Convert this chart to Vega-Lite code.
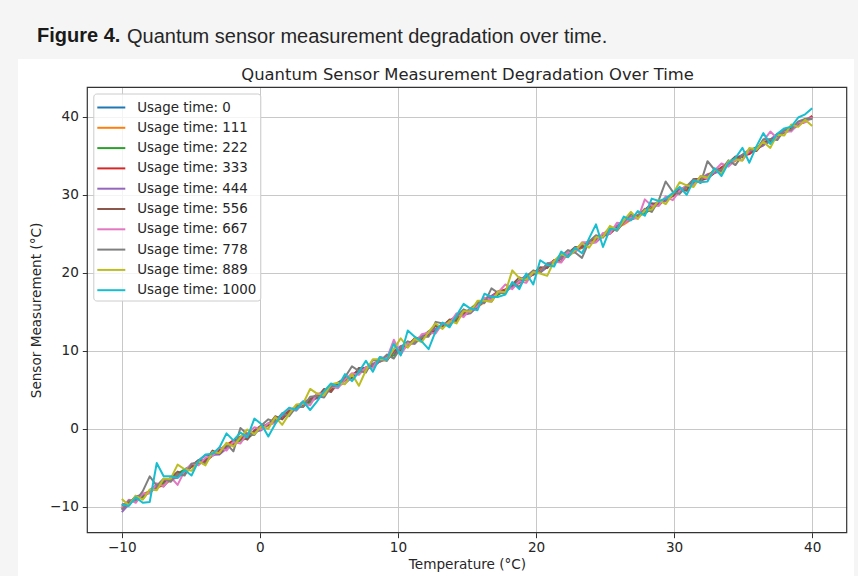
{
"$schema": "https://vega.github.io/schema/vega-lite/v6.json",
"width": 836, "height": 517,
"autosize": {"type": "none"},
"padding": {"left": 18, "top": 59, "right": 4, "bottom": 0},
"background": "#f5f5f5",
"title": {
 "text": "Figure 4.",
 "anchor": "start", "frame": "group", "orient": "top",
 "dx": 19, "offset": -20,
 "font": "Liberation Sans", "fontSize": 20, "fontWeight": "bold", "color": "#1a1a1a"
},
"config": {
 "view": {"fill": "white", "stroke": null},
 "axis": {"labelFont": "DejaVu Sans", "labelFontSize": 13.6, "labelColor": "#262626", "titleFont": "DejaVu Sans", "titleFontSize": 13.6, "titleFontWeight": "normal", "titleColor": "#262626", "tickColor": "#333333", "tickSize": 5, "gridColor": "#c8c8c8", "gridWidth": 1, "domain": false}
},
"resolve": {"axis": {"x": "independent", "y": "independent"}},
"layer": [
{
"data": {"values": [
{"t":-10,"u":0,"v":-10},{"t":-8.48,"u":0,"v":-8.5},{"t":-6.97,"u":0,"v":-7},{"t":-5.45,"u":0,"v":-5.4},{"t":-3.94,"u":0,"v":-3.9},{"t":-2.42,"u":0,"v":-2.4},{"t":-0.91,"u":0,"v":-0.9},{"t":0.61,"u":0,"v":0.6},{"t":2.12,"u":0,"v":2.1},{"t":3.64,"u":0,"v":3.6},{"t":5.15,"u":0,"v":5.2},{"t":6.67,"u":0,"v":6.7},{"t":8.18,"u":0,"v":8.2},{"t":9.7,"u":0,"v":9.7},{"t":11.21,"u":0,"v":11.2},{"t":12.73,"u":0,"v":12.7},{"t":14.24,"u":0,"v":14.3},{"t":15.76,"u":0,"v":15.8},{"t":17.27,"u":0,"v":17.3},{"t":18.79,"u":0,"v":18.8},{"t":20.3,"u":0,"v":20.3},{"t":21.82,"u":0,"v":21.8},{"t":23.33,"u":0,"v":23.3},{"t":24.85,"u":0,"v":24.9},{"t":26.36,"u":0,"v":26.4},{"t":27.88,"u":0,"v":27.9},{"t":29.39,"u":0,"v":29.4},{"t":30.91,"u":0,"v":30.9},{"t":32.42,"u":0,"v":32.4},{"t":33.94,"u":0,"v":33.9},{"t":35.45,"u":0,"v":35.5},{"t":36.97,"u":0,"v":37},{"t":38.48,"u":0,"v":38.5},{"t":40,"u":0,"v":40},
{"t":-10,"u":111,"v":-10.1},{"t":-8.48,"u":111,"v":-8.4},{"t":-6.97,"u":111,"v":-7.2},{"t":-5.45,"u":111,"v":-5.4},{"t":-3.94,"u":111,"v":-3.9},{"t":-2.42,"u":111,"v":-2.5},{"t":-0.91,"u":111,"v":-0.7},{"t":0.61,"u":111,"v":0.5},{"t":2.12,"u":111,"v":2.2},{"t":3.64,"u":111,"v":3.4},{"t":5.15,"u":111,"v":5.2},{"t":6.67,"u":111,"v":6.7},{"t":8.18,"u":111,"v":8.1},{"t":9.7,"u":111,"v":9.9},{"t":11.21,"u":111,"v":11.1},{"t":12.73,"u":111,"v":12.8},{"t":14.24,"u":111,"v":14.2},{"t":15.76,"u":111,"v":15.6},{"t":17.27,"u":111,"v":17.4},{"t":18.79,"u":111,"v":18.7},{"t":20.3,"u":111,"v":20.5},{"t":21.82,"u":111,"v":21.8},{"t":23.33,"u":111,"v":23.2},{"t":24.85,"u":111,"v":24.9},{"t":26.36,"u":111,"v":26.2},{"t":27.88,"u":111,"v":28},{"t":29.39,"u":111,"v":29.4},{"t":30.91,"u":111,"v":30.8},{"t":32.42,"u":111,"v":32.6},{"t":33.94,"u":111,"v":33.8},{"t":35.45,"u":111,"v":35.5},{"t":36.97,"u":111,"v":37},{"t":38.48,"u":111,"v":38.4},{"t":40,"u":111,"v":40.1},
{"t":-10,"u":222,"v":-9.8},{"t":-8.48,"u":222,"v":-8.7},{"t":-6.97,"u":222,"v":-6.9},{"t":-5.45,"u":222,"v":-5.2},{"t":-3.94,"u":222,"v":-4},{"t":-2.42,"u":222,"v":-2.2},{"t":-0.91,"u":222,"v":-1.2},{"t":0.61,"u":222,"v":0.7},{"t":2.12,"u":222,"v":2.3},{"t":3.64,"u":222,"v":3.4},{"t":5.15,"u":222,"v":5.4},{"t":6.67,"u":222,"v":6.6},{"t":8.18,"u":222,"v":8.3},{"t":9.7,"u":222,"v":9.4},{"t":11.21,"u":222,"v":11.4},{"t":12.73,"u":222,"v":12.8},{"t":14.24,"u":222,"v":14},{"t":15.76,"u":222,"v":16.1},{"t":17.27,"u":222,"v":17.2},{"t":18.79,"u":222,"v":19},{"t":20.3,"u":222,"v":20.1},{"t":21.82,"u":222,"v":21.9},{"t":23.33,"u":222,"v":23.6},{"t":24.85,"u":222,"v":24.7},{"t":26.36,"u":222,"v":26.6},{"t":27.88,"u":222,"v":27.6},{"t":29.39,"u":222,"v":29.5},{"t":30.91,"u":222,"v":31.1},{"t":32.42,"u":222,"v":32.2},{"t":33.94,"u":222,"v":34},{"t":35.45,"u":222,"v":35.7},{"t":36.97,"u":222,"v":36.8},{"t":38.48,"u":222,"v":38.6},{"t":40,"u":222,"v":39.9},
{"t":-10,"u":333,"v":-10.3},{"t":-8.99,"u":333,"v":-8.8},{"t":-7.98,"u":333,"v":-8.1},{"t":-6.97,"u":333,"v":-6.7},{"t":-5.96,"u":333,"v":-6.2},{"t":-4.95,"u":333,"v":-4.8},{"t":-3.94,"u":333,"v":-4.2},{"t":-2.93,"u":333,"v":-2.7},{"t":-1.92,"u":333,"v":-1.5},{"t":-0.91,"u":333,"v":-1.1},{"t":0.1,"u":333,"v":0.2},{"t":1.11,"u":333,"v":0.8},{"t":2.12,"u":333,"v":2.3},{"t":3.13,"u":333,"v":3},{"t":4.14,"u":333,"v":4.4},{"t":5.15,"u":333,"v":4.9},{"t":6.16,"u":333,"v":6.3},{"t":7.17,"u":333,"v":7.5},{"t":8.18,"u":333,"v":7.9},{"t":9.19,"u":333,"v":9.4},{"t":10.2,"u":333,"v":10.1},{"t":11.21,"u":333,"v":11.5},{"t":12.22,"u":333,"v":12},{"t":13.23,"u":333,"v":13.3},{"t":14.24,"u":333,"v":14.4},{"t":15.25,"u":333,"v":14.9},{"t":16.26,"u":333,"v":16.4},{"t":17.27,"u":333,"v":17.6},{"t":18.28,"u":333,"v":18.1},{"t":19.29,"u":333,"v":19.4},{"t":20.3,"u":333,"v":20.2},{"t":21.31,"u":333,"v":21.6},{"t":22.32,"u":333,"v":22.1},{"t":23.33,"u":333,"v":23.5},{"t":24.34,"u":333,"v":24.4},{"t":25.35,"u":333,"v":25},{"t":26.36,"u":333,"v":26.6},{"t":27.37,"u":333,"v":27.3},{"t":28.38,"u":333,"v":28.7},{"t":29.39,"u":333,"v":29.2},{"t":30.4,"u":333,"v":30.5},{"t":31.41,"u":333,"v":31.6},{"t":32.42,"u":333,"v":32.1},{"t":33.43,"u":333,"v":33.5},{"t":34.44,"u":333,"v":34.7},{"t":35.45,"u":333,"v":35.2},{"t":36.46,"u":333,"v":36.6},{"t":37.47,"u":333,"v":37.4},{"t":38.48,"u":333,"v":38.7},{"t":39.49,"u":333,"v":39.3},{"t":40,"u":333,"v":40.1},
{"t":-10,"u":444,"v":-10.7},{"t":-8.99,"u":444,"v":-8.7},{"t":-7.98,"u":444,"v":-8.2},{"t":-6.97,"u":444,"v":-6.6},{"t":-5.96,"u":444,"v":-6.3},{"t":-4.95,"u":444,"v":-4.7},{"t":-3.94,"u":444,"v":-3.4},{"t":-2.93,"u":444,"v":-3.3},{"t":-1.92,"u":444,"v":-1.8},{"t":-0.91,"u":444,"v":-0.6},{"t":0.1,"u":444,"v":-0.2},{"t":1.11,"u":444,"v":1.3},{"t":2.12,"u":444,"v":2},{"t":3.13,"u":444,"v":3.5},{"t":4.14,"u":444,"v":3.9},{"t":5.15,"u":444,"v":5.4},{"t":6.16,"u":444,"v":5.8},{"t":7.17,"u":444,"v":7.4},{"t":8.18,"u":444,"v":8.3},{"t":9.19,"u":444,"v":8.9},{"t":10.2,"u":444,"v":10.6},{"t":11.21,"u":444,"v":11},{"t":12.22,"u":444,"v":12.5},{"t":13.23,"u":444,"v":13.1},{"t":14.24,"u":444,"v":14.4},{"t":15.25,"u":444,"v":14.8},{"t":16.26,"u":444,"v":16.6},{"t":17.27,"u":444,"v":17.4},{"t":18.28,"u":444,"v":18.1},{"t":19.29,"u":444,"v":19.7},{"t":20.3,"u":444,"v":20},{"t":21.31,"u":444,"v":21.5},{"t":22.32,"u":444,"v":22.2},{"t":23.33,"u":444,"v":23.6},{"t":24.34,"u":444,"v":23.9},{"t":25.35,"u":444,"v":25.5},{"t":26.36,"u":444,"v":26.5},{"t":27.37,"u":444,"v":27.1},{"t":28.38,"u":444,"v":28.8},{"t":29.39,"u":444,"v":29.2},{"t":30.4,"u":444,"v":30.7},{"t":31.41,"u":444,"v":31.3},{"t":32.42,"u":444,"v":32.6},{"t":33.43,"u":444,"v":33},{"t":34.44,"u":444,"v":34.7},{"t":35.45,"u":444,"v":35.5},{"t":36.46,"u":444,"v":36.3},{"t":37.47,"u":444,"v":37.8},{"t":38.48,"u":444,"v":38.2},{"t":39.49,"u":444,"v":39.7},{"t":40,"u":444,"v":39.9},
{"t":-10,"u":556,"v":-9.7},{"t":-9.49,"u":556,"v":-9.7},{"t":-8.99,"u":556,"v":-8.6},{"t":-8.48,"u":556,"v":-9},{"t":-7.98,"u":556,"v":-7.9},{"t":-7.47,"u":556,"v":-7.2},{"t":-6.97,"u":556,"v":-7.4},{"t":-6.46,"u":556,"v":-6.3},{"t":-5.96,"u":556,"v":-5.5},{"t":-5.45,"u":556,"v":-5.8},{"t":-4.95,"u":556,"v":-4.8},{"t":-4.44,"u":556,"v":-4},{"t":-3.94,"u":556,"v":-4.1},{"t":-3.43,"u":556,"v":-2.8},{"t":-2.93,"u":556,"v":-3.2},{"t":-2.42,"u":556,"v":-2.2},{"t":-1.92,"u":556,"v":-2},{"t":-1.41,"u":556,"v":-1},{"t":-0.91,"u":556,"v":-1.4},{"t":-0.4,"u":556,"v":-0.2},{"t":0.1,"u":556,"v":0.4},{"t":0.61,"u":556,"v":0.4},{"t":1.11,"u":556,"v":1.6},{"t":1.62,"u":556,"v":1.2},{"t":2.12,"u":556,"v":2.2},{"t":2.63,"u":556,"v":2.9},{"t":3.13,"u":556,"v":2.8},{"t":3.64,"u":556,"v":3.8},{"t":4.14,"u":556,"v":4},{"t":4.65,"u":556,"v":5.1},{"t":5.15,"u":556,"v":4.7},{"t":5.66,"u":556,"v":5.9},{"t":6.16,"u":556,"v":6.5},{"t":6.67,"u":556,"v":6.5},{"t":7.17,"u":556,"v":7.8},{"t":7.68,"u":556,"v":7.8},{"t":8.18,"u":556,"v":7.9},{"t":8.69,"u":556,"v":8.9},{"t":9.19,"u":556,"v":8.7},{"t":9.7,"u":556,"v":10},{"t":10.2,"u":556,"v":10.3},{"t":10.71,"u":556,"v":10.5},{"t":11.21,"u":556,"v":11.6},{"t":11.72,"u":556,"v":11.4},{"t":12.22,"u":556,"v":12.4},{"t":12.73,"u":556,"v":13.2},{"t":13.23,"u":556,"v":13.1},{"t":13.74,"u":556,"v":14},{"t":14.24,"u":556,"v":13.8},{"t":14.75,"u":556,"v":14.9},{"t":15.25,"u":556,"v":15},{"t":15.76,"u":556,"v":16.2},{"t":16.26,"u":556,"v":16.4},{"t":16.77,"u":556,"v":16.3},{"t":17.27,"u":556,"v":17.6},{"t":17.78,"u":556,"v":17.7},{"t":18.28,"u":556,"v":18.5},{"t":18.79,"u":556,"v":19.4},{"t":19.29,"u":556,"v":19},{"t":19.8,"u":556,"v":19.9},{"t":20.3,"u":556,"v":20.7},{"t":20.81,"u":556,"v":20.6},{"t":21.31,"u":556,"v":21.6},{"t":21.82,"u":556,"v":21.4},{"t":22.32,"u":556,"v":22.5},{"t":22.83,"u":556,"v":23.3},{"t":23.33,"u":556,"v":23.2},{"t":23.84,"u":556,"v":24.1},{"t":24.34,"u":556,"v":24},{"t":24.85,"u":556,"v":24.9},{"t":25.35,"u":556,"v":25.7},{"t":25.86,"u":556,"v":25.4},{"t":26.36,"u":556,"v":26.6},{"t":26.87,"u":556,"v":27.2},{"t":27.37,"u":556,"v":27.2},{"t":27.88,"u":556,"v":28},{"t":28.38,"u":556,"v":28.9},{"t":28.89,"u":556,"v":28.6},{"t":29.39,"u":556,"v":29.6},{"t":29.9,"u":556,"v":29.8},{"t":30.4,"u":556,"v":30.7},{"t":30.91,"u":556,"v":30.5},{"t":31.41,"u":556,"v":32},{"t":31.92,"u":556,"v":32},{"t":32.42,"u":556,"v":32.2},{"t":32.93,"u":556,"v":33.3},{"t":33.43,"u":556,"v":33.1},{"t":33.94,"u":556,"v":34.1},{"t":34.44,"u":556,"v":34.9},{"t":34.95,"u":556,"v":34.8},{"t":35.45,"u":556,"v":35.7},{"t":35.96,"u":556,"v":35.6},{"t":36.46,"u":556,"v":36.7},{"t":36.97,"u":556,"v":37.1},{"t":37.47,"u":556,"v":37.2},{"t":37.98,"u":556,"v":38.4},{"t":38.48,"u":556,"v":38.3},{"t":38.99,"u":556,"v":39.3},{"t":39.49,"u":556,"v":39.6},{"t":40,"u":556,"v":39.7},
{"t":-10,"u":667,"v":-10.2},{"t":-9.49,"u":667,"v":-9.1},{"t":-8.99,"u":667,"v":-9.5},{"t":-8.48,"u":667,"v":-8.3},{"t":-7.98,"u":667,"v":-8.3},{"t":-7.47,"u":667,"v":-7},{"t":-6.97,"u":667,"v":-7.4},{"t":-6.46,"u":667,"v":-6.2},{"t":-5.96,"u":667,"v":-7.2},{"t":-5.45,"u":667,"v":-5.4},{"t":-4.95,"u":667,"v":-4.5},{"t":-4.44,"u":667,"v":-4.7},{"t":-3.94,"u":667,"v":-3.7},{"t":-3.43,"u":667,"v":-3.5},{"t":-2.93,"u":667,"v":-2.4},{"t":-2.42,"u":667,"v":-2.8},{"t":-1.92,"u":667,"v":-1.7},{"t":-1.41,"u":667,"v":-1.9},{"t":-0.91,"u":667,"v":-0.6},{"t":-0.4,"u":667,"v":0.2},{"t":0.1,"u":667,"v":-0.1},{"t":0.61,"u":667,"v":0.7},{"t":1.11,"u":667,"v":0.7},{"t":1.62,"u":667,"v":1.9},{"t":2.12,"u":667,"v":2.6},{"t":2.63,"u":667,"v":2.3},{"t":3.13,"u":667,"v":3.3},{"t":3.64,"u":667,"v":3},{"t":4.14,"u":667,"v":4.5},{"t":4.65,"u":667,"v":4.5},{"t":5.15,"u":667,"v":5.4},{"t":5.66,"u":667,"v":5.2},{"t":6.16,"u":667,"v":6.3},{"t":6.67,"u":667,"v":7.1},{"t":7.17,"u":667,"v":6.9},{"t":7.68,"u":667,"v":7.9},{"t":8.18,"u":667,"v":7.8},{"t":8.69,"u":667,"v":9.2},{"t":9.19,"u":667,"v":9},{"t":9.7,"u":667,"v":11.4},{"t":10.2,"u":667,"v":9.5},{"t":10.71,"u":667,"v":10.9},{"t":11.21,"u":667,"v":10.9},{"t":11.72,"u":667,"v":12.1},{"t":12.22,"u":667,"v":12.3},{"t":12.73,"u":667,"v":12.2},{"t":13.23,"u":667,"v":13.5},{"t":13.74,"u":667,"v":13.5},{"t":14.24,"u":667,"v":14.8},{"t":14.75,"u":667,"v":14.3},{"t":15.25,"u":667,"v":15.4},{"t":15.76,"u":667,"v":15.7},{"t":16.26,"u":667,"v":16.8},{"t":16.77,"u":667,"v":16.5},{"t":17.27,"u":667,"v":17.5},{"t":17.78,"u":667,"v":18.5},{"t":18.28,"u":667,"v":17.9},{"t":18.79,"u":667,"v":18.9},{"t":19.29,"u":667,"v":18.7},{"t":19.8,"u":667,"v":20.1},{"t":20.3,"u":667,"v":20.1},{"t":20.81,"u":667,"v":21.2},{"t":21.31,"u":667,"v":21.4},{"t":21.82,"u":667,"v":21.3},{"t":22.32,"u":667,"v":22.6},{"t":22.83,"u":667,"v":22.6},{"t":23.33,"u":667,"v":23.9},{"t":23.84,"u":667,"v":23.9},{"t":24.34,"u":667,"v":23.9},{"t":24.85,"u":667,"v":25.1},{"t":25.35,"u":667,"v":25},{"t":25.86,"u":667,"v":26.4},{"t":26.36,"u":667,"v":26.3},{"t":26.87,"u":667,"v":27.1},{"t":27.37,"u":667,"v":26.9},{"t":27.88,"u":667,"v":29.4},{"t":28.38,"u":667,"v":28.6},{"t":28.89,"u":667,"v":28.6},{"t":29.39,"u":667,"v":29.8},{"t":29.9,"u":667,"v":29.3},{"t":30.4,"u":667,"v":30.5},{"t":30.91,"u":667,"v":31.2},{"t":31.41,"u":667,"v":31.2},{"t":31.92,"u":667,"v":32.4},{"t":32.42,"u":667,"v":32},{"t":32.93,"u":667,"v":33.1},{"t":33.43,"u":667,"v":34},{"t":33.94,"u":667,"v":33.6},{"t":34.44,"u":667,"v":34.5},{"t":34.95,"u":667,"v":34.4},{"t":35.45,"u":667,"v":35.7},{"t":35.96,"u":667,"v":35.8},{"t":36.46,"u":667,"v":36.9},{"t":36.97,"u":667,"v":38.1},{"t":37.47,"u":667,"v":37.2},{"t":37.98,"u":667,"v":38.2},{"t":38.48,"u":667,"v":38.1},{"t":38.99,"u":667,"v":39.3},{"t":39.49,"u":667,"v":39.3},{"t":40,"u":667,"v":39.9},
{"t":-10,"u":778,"v":-10.4},{"t":-9.49,"u":778,"v":-9.2},{"t":-8.99,"u":778,"v":-9.2},{"t":-8.48,"u":778,"v":-8},{"t":-7.98,"u":778,"v":-6.1},{"t":-7.47,"u":778,"v":-7.3},{"t":-6.97,"u":778,"v":-6.4},{"t":-6.46,"u":778,"v":-6.8},{"t":-5.96,"u":778,"v":-5.8},{"t":-5.45,"u":778,"v":-6},{"t":-4.95,"u":778,"v":-4.5},{"t":-4.44,"u":778,"v":-4.3},{"t":-3.94,"u":778,"v":-4.5},{"t":-3.43,"u":778,"v":-3.1},{"t":-2.93,"u":778,"v":-3.1},{"t":-2.42,"u":778,"v":-1.9},{"t":-1.92,"u":778,"v":-2.9},{"t":-1.41,"u":778,"v":0.1},{"t":-0.91,"u":778,"v":-0.7},{"t":-0.4,"u":778,"v":-0.8},{"t":0.1,"u":778,"v":0.4},{"t":0.61,"u":778,"v":1.2},{"t":1.11,"u":778,"v":0.9},{"t":1.62,"u":778,"v":2},{"t":2.12,"u":778,"v":1.6},{"t":2.63,"u":778,"v":2.8},{"t":3.13,"u":778,"v":2.8},{"t":3.64,"u":778,"v":4.1},{"t":4.14,"u":778,"v":4.2},{"t":4.65,"u":778,"v":4},{"t":5.15,"u":778,"v":5.4},{"t":5.66,"u":778,"v":5.5},{"t":6.16,"u":778,"v":6.6},{"t":6.67,"u":778,"v":8},{"t":7.17,"u":778,"v":7.4},{"t":7.68,"u":778,"v":7.2},{"t":8.18,"u":778,"v":8.8},{"t":8.69,"u":778,"v":8.6},{"t":9.19,"u":778,"v":9.5},{"t":9.7,"u":778,"v":9},{"t":10.2,"u":778,"v":10.4},{"t":10.71,"u":778,"v":11.2},{"t":11.21,"u":778,"v":10.9},{"t":11.72,"u":778,"v":11.8},{"t":12.22,"u":778,"v":11.8},{"t":12.73,"u":778,"v":13.7},{"t":13.23,"u":778,"v":13.5},{"t":13.74,"u":778,"v":13.2},{"t":14.24,"u":778,"v":14.4},{"t":14.75,"u":778,"v":15.3},{"t":15.25,"u":778,"v":14.9},{"t":15.76,"u":778,"v":16.2},{"t":16.26,"u":778,"v":16.1},{"t":16.77,"u":778,"v":18},{"t":17.27,"u":778,"v":17.4},{"t":17.78,"u":778,"v":17.4},{"t":18.28,"u":778,"v":18.6},{"t":18.79,"u":778,"v":18.2},{"t":19.29,"u":778,"v":19.5},{"t":19.8,"u":778,"v":20.3},{"t":20.3,"u":778,"v":20},{"t":20.81,"u":778,"v":21.2},{"t":21.31,"u":778,"v":21.2},{"t":21.82,"u":778,"v":22.1},{"t":22.32,"u":778,"v":22.9},{"t":22.83,"u":778,"v":22.6},{"t":23.33,"u":778,"v":21.9},{"t":23.84,"u":778,"v":24},{"t":24.34,"u":778,"v":24.8},{"t":24.85,"u":778,"v":24.5},{"t":25.35,"u":778,"v":25.7},{"t":25.86,"u":778,"v":25.4},{"t":26.36,"u":778,"v":26.5},{"t":26.87,"u":778,"v":27.5},{"t":27.37,"u":778,"v":27.2},{"t":27.88,"u":778,"v":28.2},{"t":28.38,"u":778,"v":27.8},{"t":28.89,"u":778,"v":29.3},{"t":29.39,"u":778,"v":31.7},{"t":29.9,"u":778,"v":30.4},{"t":30.4,"u":778,"v":30.1},{"t":30.91,"u":778,"v":31.1},{"t":31.41,"u":778,"v":32},{"t":31.92,"u":778,"v":31.5},{"t":32.42,"u":778,"v":34.3},{"t":32.93,"u":778,"v":33.2},{"t":33.43,"u":778,"v":33.2},{"t":33.94,"u":778,"v":34.4},{"t":34.44,"u":778,"v":33.8},{"t":34.95,"u":778,"v":35.1},{"t":35.45,"u":778,"v":35.8},{"t":35.96,"u":778,"v":35.7},{"t":36.46,"u":778,"v":37.1},{"t":36.97,"u":778,"v":37.1},{"t":37.47,"u":778,"v":37},{"t":37.98,"u":778,"v":38.3},{"t":38.48,"u":778,"v":38.3},{"t":38.99,"u":778,"v":39.4},{"t":39.49,"u":778,"v":39.7},{"t":40,"u":778,"v":39.7},
{"t":-10,"u":889,"v":-9},{"t":-9.49,"u":889,"v":-9.8},{"t":-8.99,"u":889,"v":-8.6},{"t":-8.48,"u":889,"v":-9.1},{"t":-7.98,"u":889,"v":-7.8},{"t":-7.47,"u":889,"v":-7.9},{"t":-6.97,"u":889,"v":-6.4},{"t":-6.46,"u":889,"v":-6.4},{"t":-5.96,"u":889,"v":-4.6},{"t":-5.45,"u":889,"v":-5.2},{"t":-4.95,"u":889,"v":-5.4},{"t":-4.44,"u":889,"v":-4.2},{"t":-3.94,"u":889,"v":-4.7},{"t":-3.43,"u":889,"v":-3},{"t":-2.93,"u":889,"v":-3.1},{"t":-2.42,"u":889,"v":-1.8},{"t":-1.92,"u":889,"v":-2.3},{"t":-1.41,"u":889,"v":-1.1},{"t":-0.91,"u":889,"v":-0.1},{"t":-0.4,"u":889,"v":-0.7},{"t":0.1,"u":889,"v":0.3},{"t":0.61,"u":889,"v":0},{"t":1.11,"u":889,"v":1.5},{"t":1.62,"u":889,"v":0.5},{"t":2.12,"u":889,"v":1.9},{"t":2.63,"u":889,"v":3.1},{"t":3.13,"u":889,"v":3.2},{"t":3.64,"u":889,"v":5.1},{"t":4.14,"u":889,"v":4.5},{"t":4.65,"u":889,"v":4.3},{"t":5.15,"u":889,"v":5.7},{"t":5.66,"u":889,"v":5.9},{"t":6.16,"u":889,"v":5.7},{"t":6.67,"u":889,"v":7},{"t":7.17,"u":889,"v":5.5},{"t":7.68,"u":889,"v":7.5},{"t":8.18,"u":889,"v":8.9},{"t":8.69,"u":889,"v":8.9},{"t":9.19,"u":889,"v":8.8},{"t":9.7,"u":889,"v":10.2},{"t":10.2,"u":889,"v":11.6},{"t":10.71,"u":889,"v":10.4},{"t":11.21,"u":889,"v":11.5},{"t":11.72,"u":889,"v":11.1},{"t":12.22,"u":889,"v":12.4},{"t":12.73,"u":889,"v":13.5},{"t":13.23,"u":889,"v":12.8},{"t":13.74,"u":889,"v":13.8},{"t":14.24,"u":889,"v":13.5},{"t":14.75,"u":889,"v":15.1},{"t":15.25,"u":889,"v":15},{"t":15.76,"u":889,"v":16.4},{"t":16.26,"u":889,"v":16.4},{"t":16.77,"u":889,"v":16.3},{"t":17.27,"u":889,"v":17.6},{"t":17.78,"u":889,"v":17.5},{"t":18.28,"u":889,"v":20.3},{"t":18.79,"u":889,"v":19.3},{"t":19.29,"u":889,"v":19.1},{"t":19.8,"u":889,"v":20.1},{"t":20.3,"u":889,"v":19.9},{"t":20.81,"u":889,"v":19.6},{"t":21.31,"u":889,"v":21.5},{"t":21.82,"u":889,"v":22.4},{"t":22.32,"u":889,"v":22},{"t":22.83,"u":889,"v":22.9},{"t":23.33,"u":889,"v":23.8},{"t":23.84,"u":889,"v":23.2},{"t":24.34,"u":889,"v":24.5},{"t":24.85,"u":889,"v":24.6},{"t":25.35,"u":889,"v":26},{"t":25.86,"u":889,"v":25.5},{"t":26.36,"u":889,"v":26.7},{"t":26.87,"u":889,"v":27.8},{"t":27.37,"u":889,"v":26.9},{"t":27.88,"u":889,"v":28},{"t":28.38,"u":889,"v":28.1},{"t":28.89,"u":889,"v":29.3},{"t":29.39,"u":889,"v":28.8},{"t":29.9,"u":889,"v":30.1},{"t":30.4,"u":889,"v":31.6},{"t":30.91,"u":889,"v":31.2},{"t":31.41,"u":889,"v":31},{"t":31.92,"u":889,"v":32.4},{"t":32.42,"u":889,"v":32.2},{"t":32.93,"u":889,"v":33.2},{"t":33.43,"u":889,"v":32.7},{"t":33.94,"u":889,"v":34.3},{"t":34.44,"u":889,"v":34.5},{"t":34.95,"u":889,"v":34.4},{"t":35.45,"u":889,"v":36},{"t":35.96,"u":889,"v":35.8},{"t":36.46,"u":889,"v":36.8},{"t":36.97,"u":889,"v":36},{"t":37.47,"u":889,"v":37.7},{"t":37.98,"u":889,"v":37.6},{"t":38.48,"u":889,"v":39},{"t":38.99,"u":889,"v":38.7},{"t":39.49,"u":889,"v":39.6},{"t":40,"u":889,"v":38.8},
{"t":-10,"u":1000,"v":-9.7},{"t":-9.49,"u":1000,"v":-9.9},{"t":-8.99,"u":1000,"v":-8.8},{"t":-8.48,"u":1000,"v":-9.5},{"t":-7.98,"u":1000,"v":-9.4},{"t":-7.47,"u":1000,"v":-4.4},{"t":-6.97,"u":1000,"v":-6.1},{"t":-6.46,"u":1000,"v":-6.1},{"t":-5.96,"u":1000,"v":-6.3},{"t":-5.45,"u":1000,"v":-5.3},{"t":-4.95,"u":1000,"v":-6},{"t":-4.44,"u":1000,"v":-4.1},{"t":-3.94,"u":1000,"v":-3.3},{"t":-3.43,"u":1000,"v":-3.2},{"t":-2.93,"u":1000,"v":-2.4},{"t":-2.42,"u":1000,"v":-0.6},{"t":-1.92,"u":1000,"v":-1.5},{"t":-1.41,"u":1000,"v":-0.5},{"t":-0.91,"u":1000,"v":-1.1},{"t":-0.4,"u":1000,"v":1.3},{"t":0.1,"u":1000,"v":0.6},{"t":0.61,"u":1000,"v":-1},{"t":1.11,"u":1000,"v":0.6},{"t":1.62,"u":1000,"v":1.9},{"t":2.12,"u":1000,"v":2.7},{"t":2.63,"u":1000,"v":2.4},{"t":3.13,"u":1000,"v":3.5},{"t":3.64,"u":1000,"v":2.4},{"t":4.14,"u":1000,"v":3.5},{"t":4.65,"u":1000,"v":4.8},{"t":5.15,"u":1000,"v":5.8},{"t":5.66,"u":1000,"v":5.4},{"t":6.16,"u":1000,"v":7},{"t":6.67,"u":1000,"v":6.1},{"t":7.17,"u":1000,"v":7.3},{"t":7.68,"u":1000,"v":8.7},{"t":8.18,"u":1000,"v":7.3},{"t":8.69,"u":1000,"v":9.2},{"t":9.19,"u":1000,"v":8.8},{"t":9.7,"u":1000,"v":10.9},{"t":10.2,"u":1000,"v":9.4},{"t":10.71,"u":1000,"v":12.6},{"t":11.21,"u":1000,"v":11.8},{"t":11.72,"u":1000,"v":11.2},{"t":12.22,"u":1000,"v":10.2},{"t":12.73,"u":1000,"v":12.5},{"t":13.23,"u":1000,"v":13.6},{"t":13.74,"u":1000,"v":13},{"t":14.24,"u":1000,"v":14.5},{"t":14.75,"u":1000,"v":16},{"t":15.25,"u":1000,"v":15.4},{"t":15.76,"u":1000,"v":15.2},{"t":16.26,"u":1000,"v":17.3},{"t":16.77,"u":1000,"v":16.9},{"t":17.27,"u":1000,"v":16.9},{"t":17.78,"u":1000,"v":17.2},{"t":18.28,"u":1000,"v":18.8},{"t":18.79,"u":1000,"v":17.9},{"t":19.29,"u":1000,"v":19.9},{"t":19.8,"u":1000,"v":18.5},{"t":20.3,"u":1000,"v":21.6},{"t":20.81,"u":1000,"v":21},{"t":21.31,"u":1000,"v":20.8},{"t":21.82,"u":1000,"v":22.7},{"t":22.32,"u":1000,"v":22},{"t":22.83,"u":1000,"v":23.2},{"t":23.33,"u":1000,"v":22.5},{"t":23.84,"u":1000,"v":24.4},{"t":24.34,"u":1000,"v":26.2},{"t":24.85,"u":1000,"v":23.3},{"t":25.35,"u":1000,"v":25.6},{"t":25.86,"u":1000,"v":25.5},{"t":26.36,"u":1000,"v":27.2},{"t":26.87,"u":1000,"v":26.7},{"t":27.37,"u":1000,"v":27.9},{"t":27.88,"u":1000,"v":27.3},{"t":28.38,"u":1000,"v":29.5},{"t":28.89,"u":1000,"v":29.2},{"t":29.39,"u":1000,"v":29.5},{"t":29.9,"u":1000,"v":30.2},{"t":30.4,"u":1000,"v":31},{"t":30.91,"u":1000,"v":30},{"t":31.41,"u":1000,"v":31.8},{"t":31.92,"u":1000,"v":31.6},{"t":32.42,"u":1000,"v":31.7},{"t":32.93,"u":1000,"v":33.4},{"t":33.43,"u":1000,"v":32.4},{"t":33.94,"u":1000,"v":34.1},{"t":34.44,"u":1000,"v":34.7},{"t":34.95,"u":1000,"v":36},{"t":35.45,"u":1000,"v":34.1},{"t":35.96,"u":1000,"v":36.2},{"t":36.46,"u":1000,"v":37.9},{"t":36.97,"u":1000,"v":36.5},{"t":37.47,"u":1000,"v":37.8},{"t":37.98,"u":1000,"v":38.5},{"t":38.48,"u":1000,"v":38.7},{"t":38.99,"u":1000,"v":39.9},{"t":39.49,"u":1000,"v":40.3},{"t":40,"u":1000,"v":41.1}
]},
"mark": {"type": "line", "strokeWidth": 2, "strokeJoin": "round"},
"encoding": {
 "x": {"field": "t", "type": "quantitative",
  "scale": {"domain": [-12.5, 42.5], "range": [69.3, 828.7], "nice": false, "zero": false},
  "axis": {"title": "Temperature (°C)", "values": [-10, 0, 10, 20, 30, 40], "offset": -43.3, "labelPadding": 3, "titlePadding": 3, "grid": false}},
 "y": {"field": "v", "type": "quantitative",
  "scale": {"domain": [-13.33, 43.77], "range": [473.7, 28.3], "nice": false, "zero": false},
  "axis": {"orient": "left", "title": "Sensor Measurement (°C)", "values": [-10, 0, 10, 20, 30, 40], "offset": -69.3, "labelPadding": 4, "titlePadding": 6, "grid": true}},
 "color": {"field": "u", "type": "ordinal",
  "scale": {"domain": [0, 111, 222, 333, 444, 556, 667, 778, 889, 1000], "range": ["#1f77b4", "#ff7f0e", "#2ca02c", "#d62728", "#9467bd", "#8c564b", "#e377c2", "#7f7f7f", "#bcbd22", "#17becf"]},
  "legend": {"orient": "none", "legendX": 75.3, "legendY": 34.5, "title": null,
   "symbolType": "M-1,0H1.8", "symbolSize": 400, "symbolStrokeWidth": 2,
   "labelExpr": "'Usage time: ' + datum.label",
   "labelFont": "DejaVu Sans", "labelFontSize": 13.4, "labelColor": "#262626", "labelOffset": 19,
   "rowPadding": 2.3, "padding": 3,
   "fillColor": "rgba(255,255,255,0.8)", "strokeColor": "#cccccc", "cornerRadius": 3}}
}
},
{
"data": {"values": [{}]},
"mark": {"type": "rect", "filled": false, "stroke": "#333333", "strokeWidth": 1.2},
"encoding": {
 "x": {"datum": -12.5, "type": "quantitative",
  "axis": {"orient": "top", "title": "Quantum Sensor Measurement Degradation Over Time", "values": [-10, 0, 10, 20, 30, 40], "labels": false, "ticks": false, "grid": true, "offset": -28.3, "titleFontSize": 16.4, "titlePadding": 5}},
 "x2": {"datum": 42.5},
 "y": {"datum": -13.33, "type": "quantitative",
  "axis": {"orient": "right", "title": "Quantum sensor measurement degradation over time.", "labels": false, "ticks": false, "grid": false, "domain": false,
   "titleAngle": 0, "titleX": -727.5, "titleY": -13, "titleAlign": "left", "titleBaseline": "bottom",
   "titleFont": "Liberation Sans", "titleFontSize": 20, "titleFontWeight": "normal", "titleColor": "#262626"}},
 "y2": {"datum": 43.77}
}
}
]
}
